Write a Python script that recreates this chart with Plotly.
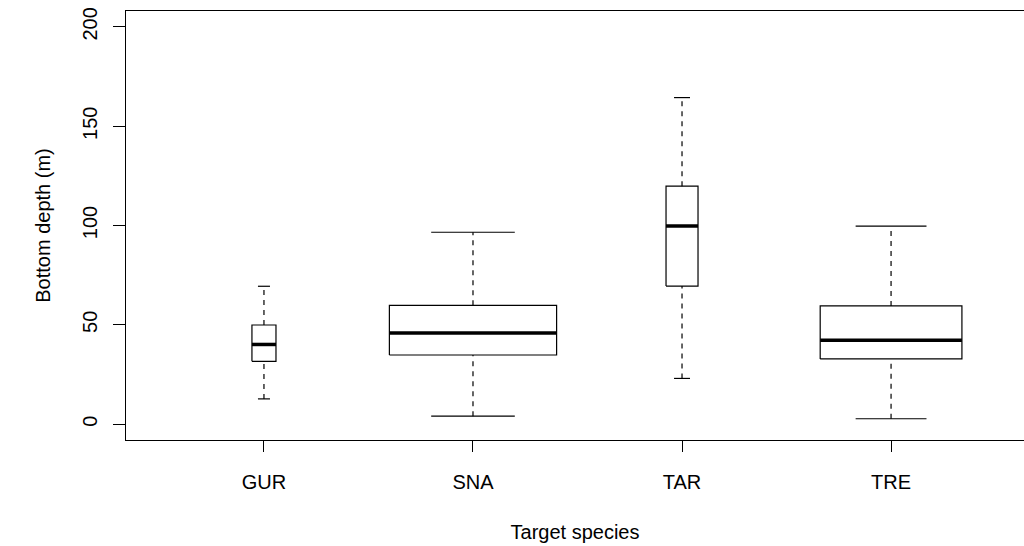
import plotly.graph_objects as go

# Bottom depth (m) summary by target species
species = ["GUR", "SNA", "TAR", "TRE"]
lower_whisker = [12.7, 4.0, 23.0, 2.7]
q1 = [31.6, 34.8, 69.5, 32.8]
median = [40.1, 45.9, 99.7, 42.2]
q3 = [49.9, 59.8, 119.8, 59.5]
upper_whisker = [69.4, 96.6, 164.4, 99.7]
# relative box widths (proportional to sqrt of sample size)
box_width = [0.115, 0.8, 0.153, 0.678]

positions = list(range(1, len(species) + 1))

box_x, box_y = [], []
med_x, med_y = [], []
whisk_x, whisk_y = [], []
cap_x, cap_y = [], []
for p, lo, a, m, b, hi, w in zip(positions, lower_whisker, q1, median, q3,
                                  upper_whisker, box_width):
    h = w / 2
    box_x += [p - h, p + h, p + h, p - h, p - h, None]
    box_y += [a, a, b, b, a, None]
    med_x += [p - h, p + h, None]
    med_y += [m, m, None]
    whisk_x += [p, p, None, p, p, None]
    whisk_y += [lo, a, None, b, hi, None]
    c = w / 4
    cap_x += [p - c, p + c, None, p - c, p + c, None]
    cap_y += [lo, lo, None, hi, hi, None]

fig = go.Figure()
fig.add_trace(go.Scatter(x=whisk_x, y=whisk_y, mode="lines",
                         line=dict(color="black", width=1.2, dash="5px,5px"),
                         hoverinfo="skip"))
fig.add_trace(go.Scatter(x=cap_x, y=cap_y, mode="lines",
                         line=dict(color="black", width=1.2), hoverinfo="skip"))
fig.add_trace(go.Scatter(x=box_x, y=box_y, mode="lines",
                         line=dict(color="black", width=1.2), fill="none",
                         hoverinfo="skip"))
fig.add_trace(go.Scatter(x=med_x, y=med_y, mode="lines",
                         line=dict(color="black", width=3.5), hoverinfo="skip"))

font = dict(family="Liberation Sans, Arial, Helvetica, sans-serif",
            size=20, color="black")

fig.update_layout(
    width=1024, height=546,
    margin=dict(l=126, r=0, t=11, b=106),
    paper_bgcolor="white", plot_bgcolor="white",
    showlegend=False,
    font=font,
    xaxis=dict(
        range=[0.34, 4.636],
        tickmode="array", tickvals=positions, ticktext=species,
        ticks="outside", ticklen=11, tickwidth=1, tickcolor="black",
        showline=True, linecolor="black", linewidth=1.2, mirror=True,
        showgrid=False, zeroline=False,
        ticklabelstandoff=13,
        title=dict(text="Target species", standoff=32, font=font),
    ),
    yaxis=dict(
        range=[-8, 208],
        tickmode="array", tickvals=[0, 50, 100, 150, 200],
        ticks="outside", ticklen=12, tickwidth=1, tickcolor="black",
        tickangle=-90,
        showline=True, linecolor="black", linewidth=1.2,
        showgrid=False, zeroline=False,
        ticklabelstandoff=8,
        title=dict(text="Bottom depth (m)", standoff=22, font=font),
    ),
)

fig.write_html("out.html")
